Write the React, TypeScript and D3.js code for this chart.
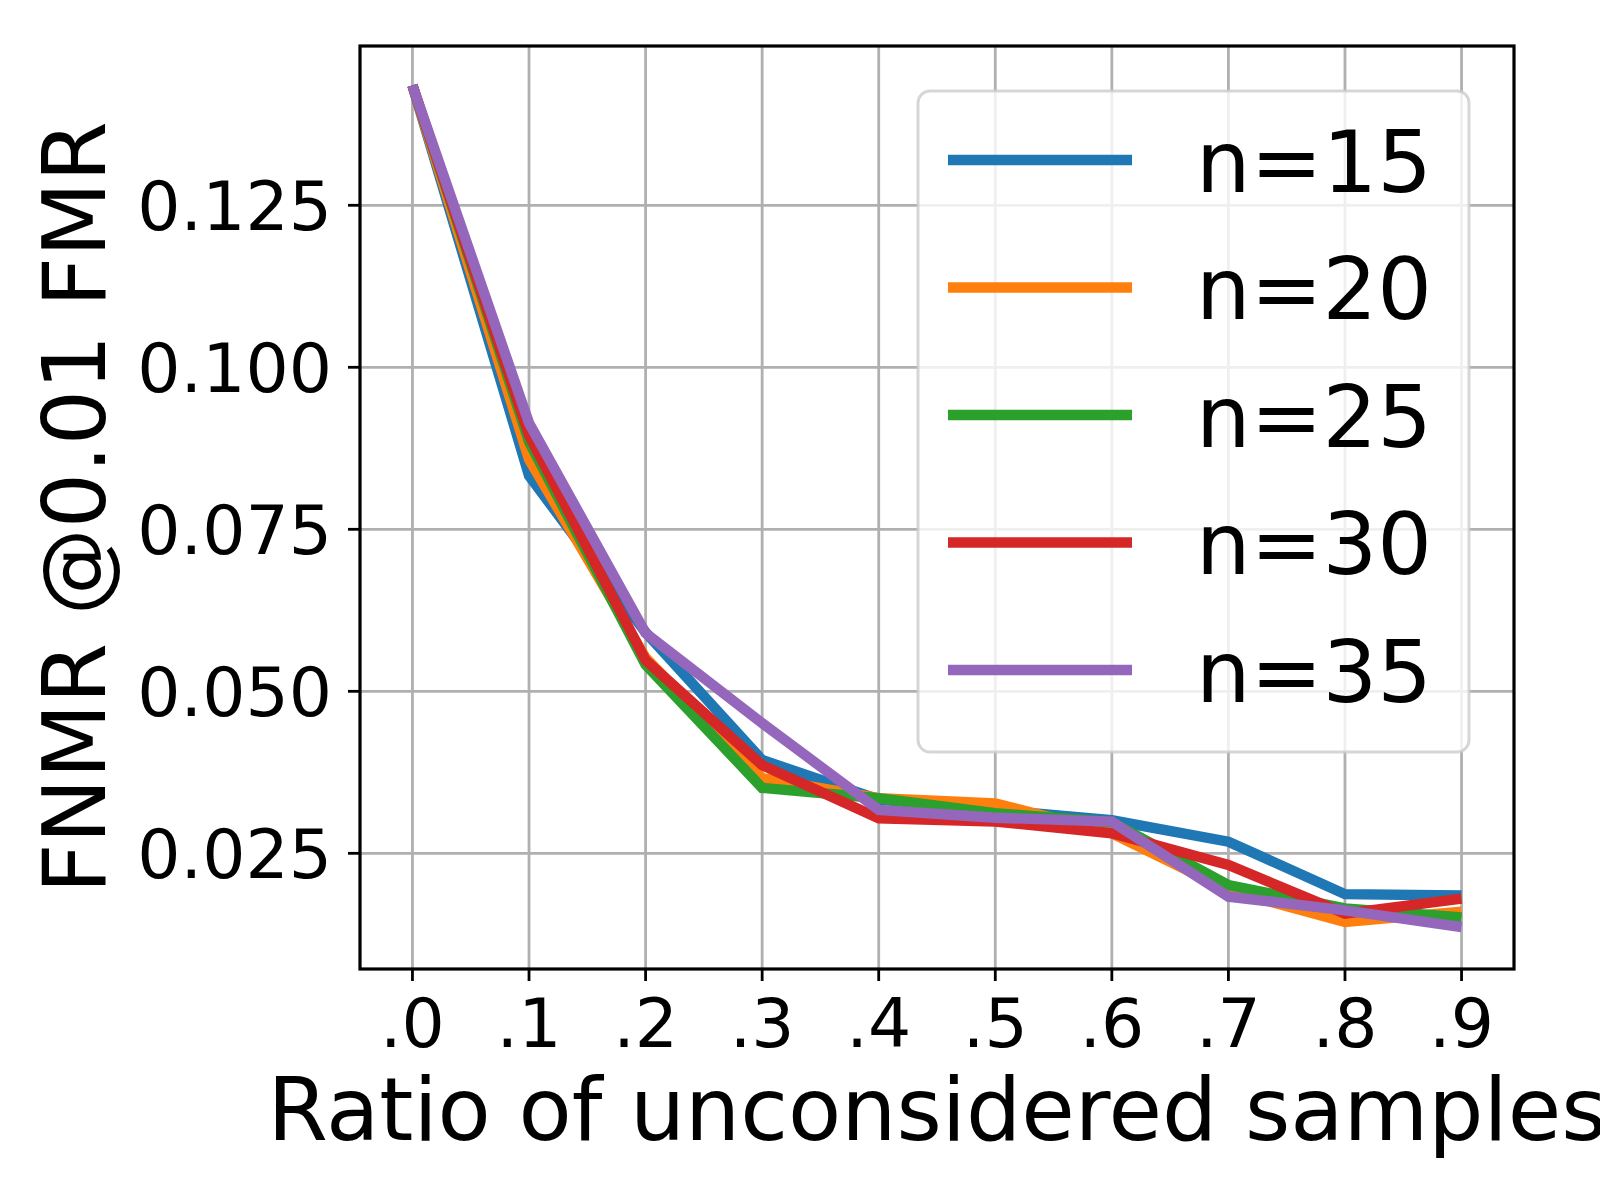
import React from "react";
import * as d3 from "d3";

const ratios = [0, 0.1, 0.2, 0.3, 0.4, 0.5, 0.6, 0.7, 0.8, 0.9];
const xTickLabels = [".0", ".1", ".2", ".3", ".4", ".5", ".6", ".7", ".8", ".9"];
const yTicks = [0.025, 0.05, 0.075, 0.1, 0.125];
const seriesNames = ["n=15", "n=20", "n=25", "n=30", "n=35"];
const seriesColors = ["#1f77b4", "#ff7f0e", "#2ca02c", "#d62728", "#9467bd"];

const n15 = [0.1435, 0.0833, 0.0591, 0.0394, 0.0333, 0.0317, 0.0301, 0.0268, 0.0187, 0.0185];
const n20 = [0.1435, 0.0858, 0.0552, 0.0366, 0.0335, 0.0327, 0.0281, 0.0193, 0.0144, 0.016];
const n25 = [0.1435, 0.0885, 0.0541, 0.0351, 0.0335, 0.0312, 0.0298, 0.0201, 0.0165, 0.0151];
const n30 = [0.1435, 0.0895, 0.0548, 0.0386, 0.0304, 0.0299, 0.0281, 0.0232, 0.0157, 0.018];
const n35 = [0.1435, 0.0914, 0.059, 0.0451, 0.0317, 0.0305, 0.0299, 0.0183, 0.0162, 0.0136];

const seriesValues = [n15, n20, n25, n30, n35];

const W = 1600;
const H = 1200;
const L = 360, R = 1514, T = 46, B = 969;
const FONT = "'DejaVu Sans', sans-serif";

export default function App() {
  const x = d3.scaleLinear().domain([-0.045, 0.945]).range([L, R]);
  const y = d3.scaleLinear().domain([0.00715, 0.14958]).range([B, T]);
  const line = d3
    .line<number>()
    .x((_, i) => x(ratios[i]))
    .y((d) => y(d));

  const legX = 918, legY = 91, legW = 551, legH = 661;
  const legLineX1 = 948, legLineX2 = 1132, legTextX = 1196;
  const legRowY0 = 160, legRowStep = 127.5;

  return (
    <div style={{ position: "fixed", left: 0, top: 0, width: W, height: H, background: "#fff" }}>
      <svg width={W} height={H} viewBox={`0 0 ${W} ${H}`} style={{ display: "block" }}>
        <rect x={0} y={0} width={W} height={H} fill="#fff" />
        <defs>
          <clipPath id="plotclip">
            <rect x={L} y={T} width={R - L} height={B - T} />
          </clipPath>
        </defs>
        {/* grid */}
        {ratios.map((r, i) => (
          <line key={"gx" + i} x1={x(r)} x2={x(r)} y1={T} y2={B} stroke="#b0b0b0" strokeWidth={2.8} />
        ))}
        {yTicks.map((t, i) => (
          <line key={"gy" + i} x1={L} x2={R} y1={y(t)} y2={y(t)} stroke="#b0b0b0" strokeWidth={2.8} />
        ))}
        {/* series */}
        <g clipPath="url(#plotclip)">
          {seriesValues.map((vals, si) => (
            <path
              key={"s" + si}
              d={line(vals) || ""}
              fill="none"
              stroke={seriesColors[si]}
              strokeWidth={10.4}
              strokeLinejoin="miter"
              strokeLinecap="butt"
            />
          ))}
        </g>
        {/* spines */}
        <rect x={L} y={T} width={R - L} height={B - T} fill="none" stroke="#000" strokeWidth={3.2} />
        {/* x ticks */}
        {ratios.map((r, i) => (
          <g key={"xt" + i}>
            <line x1={x(r)} x2={x(r)} y1={B} y2={B + 12} stroke="#000" strokeWidth={2.8} />
            <text x={x(r)} y={1047} textAnchor="middle" fontFamily={FONT} fontSize={68} fill="#000">
              {xTickLabels[i]}
            </text>
          </g>
        ))}
        {/* y ticks */}
        {yTicks.map((t, i) => (
          <g key={"yt" + i}>
            <line x1={L - 12} x2={L} y1={y(t)} y2={y(t)} stroke="#000" strokeWidth={2.8} />
            <text
              x={332}
              y={y(t) + 24.8}
              textAnchor="end"
              fontFamily={FONT}
              fontSize={68}
              fill="#000"
            >
              {d3.format(".3f")(t)}
            </text>
          </g>
        ))}
        {/* axis labels */}
        <text x={(L + R) / 2} y={1140} textAnchor="middle" fontFamily={FONT} fontSize={87} fill="#000">
          Ratio of unconsidered samples
        </text>
        <text
          transform={`translate(105, ${(T + B) / 2}) rotate(-90)`}
          textAnchor="middle"
          fontFamily={FONT}
          fontSize={87}
          fill="#000"
        >
          FNMR @0.01 FMR
        </text>
        {/* legend */}
        <rect
          x={legX}
          y={legY}
          width={legW}
          height={legH}
          rx={12}
          ry={12}
          fill="#fff"
          fillOpacity={0.8}
          stroke="#cccccc"
          strokeOpacity={0.8}
          strokeWidth={3}
        />
        {seriesNames.map((name, i) => {
          const ly = legRowY0 + i * legRowStep;
          return (
            <g key={"lg" + i}>
              <line x1={legLineX1} x2={legLineX2} y1={ly} y2={ly} stroke={seriesColors[i]} strokeWidth={10.4} />
              <text x={legTextX} y={ly + 31.5} fontFamily={FONT} fontSize={86} fill="#000">
                {name}
              </text>
            </g>
          );
        })}
      </svg>
    </div>
  );
}
